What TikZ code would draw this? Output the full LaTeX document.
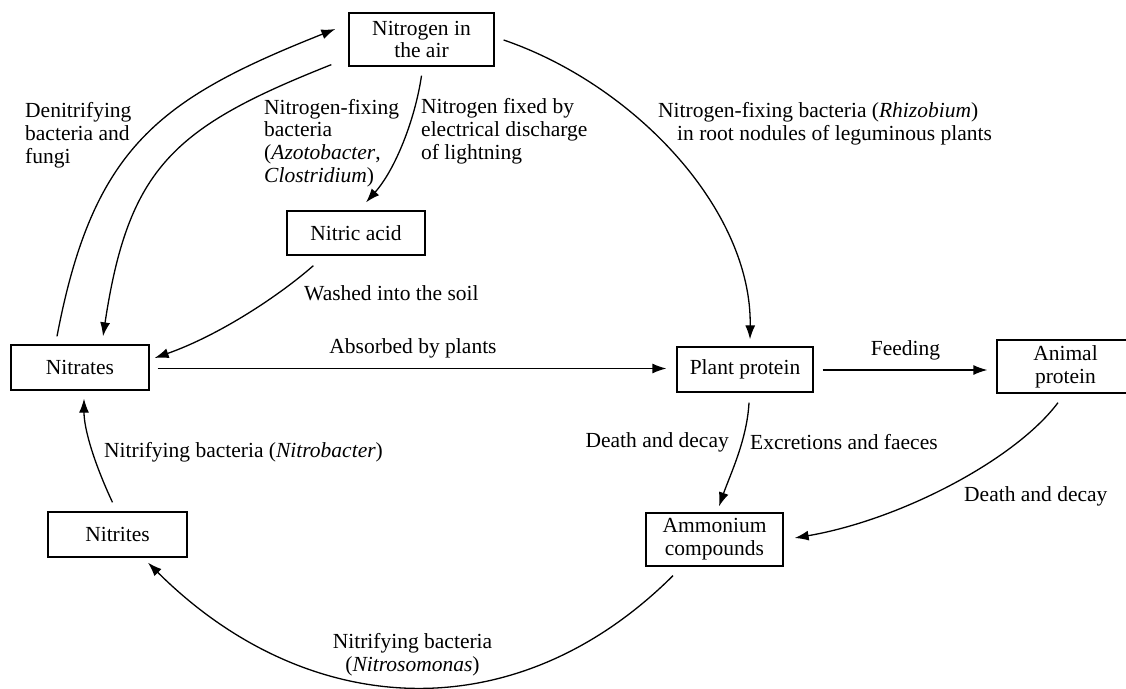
\documentclass[tikz,border=0pt]{standalone}
\usepackage{fontspec}
\setmainfont{Liberation Serif}
\usetikzlibrary{arrows.meta,calc}
\begin{document}
\begin{tikzpicture}[x=1pt,y=-1pt,
  every node/.style={font=\fontsize{21.5}{22.8}\selectfont, inner sep=0pt},
  box/.style={draw, line width=1.3pt, align=center},
  conn/.style={line width=1.3pt, -{Latex[length=14pt,width=10pt]}},
  lbl/.style={align=left}]
\useasboundingbox (0,0) rectangle (1126,688);
% boxes
\node[box, minimum width=145pt, minimum height=53pt] (air) at (421.5,39.5) {Nitrogen in\\the air};
\node[box, minimum width=138pt, minimum height=44pt] (nitric) at (356,233) {Nitric acid};
\node[box, minimum width=138pt, minimum height=45pt] (nitrates) at (80,367.5) {Nitrates};
\node[box, minimum width=139pt, minimum height=45pt] (nitrites) at (117.5,534.5) {Nitrites};
\node[box, minimum width=136pt, minimum height=45pt] (plant) at (745,369.5) {Plant protein};
\node[box, minimum width=137pt, minimum height=53pt] (animal) at (1065.5,366.5) {Animal\\protein};
\node[box, minimum width=137pt, minimum height=53pt] (ammon) at (714.5,539.5) {Ammonium\\compounds};
% labels
\node[lbl, anchor=west] (ldenit) at (25,135) {Denitrifying\\bacteria and\\fungi};
\node[lbl, anchor=west] (lfix) at (264,143) {Nitrogen-fixing\\bacteria\\(\textit{Azotobacter},\\\textit{Clostridium})};
\node[lbl, anchor=west] (llight) at (421,131.5) {Nitrogen fixed by\\electrical discharge\\of lightning};
\node[lbl, anchor=west] (lrhiz) at (658,123.5) {Nitrogen-fixing bacteria (\textit{Rhizobium})\\\hspace*{19pt}in root nodules of leguminous plants};
\node[anchor=west] (lwash) at (304,293) {Washed into the soil};
\node (labs) at (413,348) {Absorbed by plants};
\node (lfeed) at (905.5,350) {Feeding};
\node[anchor=east] (ldd1) at (729,442) {Death and decay};
\node[anchor=west] (lexc) at (750,442) {Excretions and faeces};
\node[anchor=west] (ldd2) at (964,496) {Death and decay};
\node[anchor=west] (lnbac) at (104,452) {Nitrifying bacteria (\textit{Nitrobacter})};
\node[align=center] (lnsom) at (412.5,654.5) {Nitrifying bacteria\\(\textit{Nitrosomonas})};
% connectors
\draw[conn] ($(nitrates.north)+(-23,-8)$) .. controls (93,147) and (159,99) .. ($(air.west)+(-13,-10.5)$);
\draw[conn] ($(air.south west)+(-17,-2)$) .. controls (174,127) and (128.5,167) .. ($(nitrates.north)+(23,-8)$);
\draw[conn] ($(air.south)+(0,9)$) .. controls (415,120) and (395,170) .. ($(nitric.north)+(10,-8)$);
\draw[conn] ($(nitric.south west)+(27,10)$) .. controls (280,295) and (220,335) .. ($(nitrates.east)+(5,-9.5)$);
\draw[conn] ($(air.east)+(9,0.5)$) .. controls (635,85) and (752,210) .. ($(plant.north)+(5,-7)$);
\draw[conn] ($(nitrates.east)+(8,1)$) -- ($(plant.west)+(-10,-1)$);
\draw[conn] ($(plant.east)+(9,0.5)$) -- ($(animal.west)+(-9,3.5)$);
\draw[conn] ($(plant.south)+(4,10)$) .. controls (747,440) and (730,475) .. ($(ammon.north)+(4.5,-6)$);
\draw[conn] ($(animal.south)+(-7.5,9)$) .. controls (1015,460) and (900,520) .. ($(ammon.east)+(11,-1.5)$);
\draw[conn] ($(ammon.south)+(-41.5,9)$) .. controls (515,733) and (306,720) .. ($(nitrites.south)+(30.5,5)$);
\draw[conn] ($(nitrites.north)+(-5,-9)$) .. controls (95,465) and (84,430) .. ($(nitrates.south)+(4,8)$);
\end{tikzpicture}
\end{document}
